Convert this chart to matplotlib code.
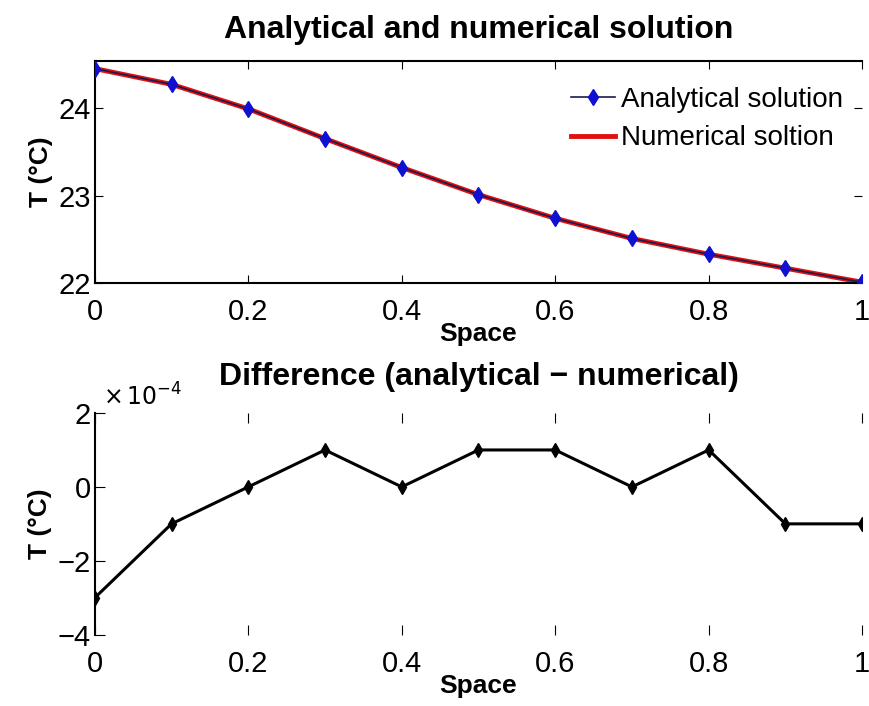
import matplotlib.pyplot as plt
from matplotlib.ticker import FuncFormatter

# espaco (x) e temperaturas
espaco = [0.0, 0.1, 0.2, 0.3, 0.4, 0.5, 0.6, 0.7, 0.8, 0.9, 1.0]
analitica = [24.45, 24.27, 23.99, 23.65, 23.32, 23.01, 22.74, 22.51, 22.33, 22.17, 22.01]
numerica = [24.45, 24.27, 23.99, 23.65, 23.32, 23.01, 22.74, 22.51, 22.33, 22.17, 22.01]
diferenca = [-3e-4, -1e-4, 0.0, 1e-4, 0.0, 1e-4, 1e-4, 0.0, 1e-4, -1e-4, -1e-4]

xticks = [0, 0.2, 0.4, 0.6, 0.8, 1]
xlabels = ['0', '0.2', '0.4', '0.6', '0.8', '1']
yticks_top = [22, 23, 24]
yticks_bot = [-4e-4, -2e-4, 0, 2e-4]

plt.rcParams['font.family'] = ['Liberation Sans', 'DejaVu Sans']

fig = plt.figure(figsize=(8.7, 7.06), dpi=100)

# grafico de cima
ax1 = fig.add_axes([0.109, 0.599, 0.882, 0.315])
ax1.plot(espaco, numerica, color='#e01010', lw=3.5, zorder=2, label='Numerical soltion')
ax1.plot(espaco, analitica, color='#1a1a50', lw=1.2, marker='d', ms=8,
         mfc='#1010d0', mec='#1010d0', zorder=3, label='Analytical solution')
ax1.set_xlim(0, 1)
ax1.set_ylim(22, 24.54)
ax1.set_xticks(xticks)
ax1.set_xticklabels(xlabels)
ax1.set_yticks(yticks_top)
ax1.tick_params(axis='y', direction='in', length=6, labelsize=21, right=True, pad=3)
ax1.tick_params(axis='x', direction='in', length=6, labelsize=21, top=True, pad=11)
ax1.spines['right'].set_visible(False)
for s in ['top', 'left', 'bottom']:
    ax1.spines[s].set_linewidth(1.5)
ax1.set_title('Analytical and numerical solution', fontsize=23, fontweight='bold', pad=16)
ax1.set_xlabel('Space', fontsize=19, fontweight='bold', labelpad=-3)
ax1.set_ylabel('T (°C)', fontsize=19, fontweight='bold', labelpad=4)
h, l = ax1.get_legend_handles_labels()
ax1.legend(h[::-1], l[::-1], loc='upper right', frameon=False, fontsize=20,
           handlelength=1.6, handletextpad=0.2, labelspacing=0.45,
           borderaxespad=0.3, bbox_to_anchor=(1.0, 0.97))

# grafico de baixo
ax2 = fig.add_axes([0.109, 0.101, 0.882, 0.314])
ax2.plot(espaco, diferenca, color='black', lw=2.2, marker='d', ms=7,
         mfc='black', mec='black')
ax2.set_xlim(0, 1)
ax2.set_ylim(-4e-4, 2e-4)
ax2.set_xticks(xticks)
ax2.set_xticklabels(xlabels)
ax2.set_yticks(yticks_bot)
ax2.yaxis.set_major_formatter(FuncFormatter(lambda v, p: f'{v * 1e4:g}'.replace('-', '\u2212')))
ax2.tick_params(axis='y', direction='in', length=7, labelsize=21, pad=3)
ax2.tick_params(axis='x', direction='in', length=7, labelsize=21, top=True, pad=11)
for s in ['top', 'right', 'bottom']:
    ax2.spines[s].set_visible(False)
ax2.spines['left'].set_linewidth(1.5)
ax2.text(0.01, 1.01, r'$\times\,10^{-4}$', transform=ax2.transAxes, fontsize=17,
         ha='left', va='bottom')
ax2.set_title('Difference (analytical \u2212 numerical)', fontsize=23, fontweight='bold', pad=20)
ax2.set_xlabel('Space', fontsize=19, fontweight='bold', labelpad=-3)
ax2.set_ylabel('T (°C)', fontsize=19, fontweight='bold', labelpad=4)

fig.savefig('out.png', dpi=100)
